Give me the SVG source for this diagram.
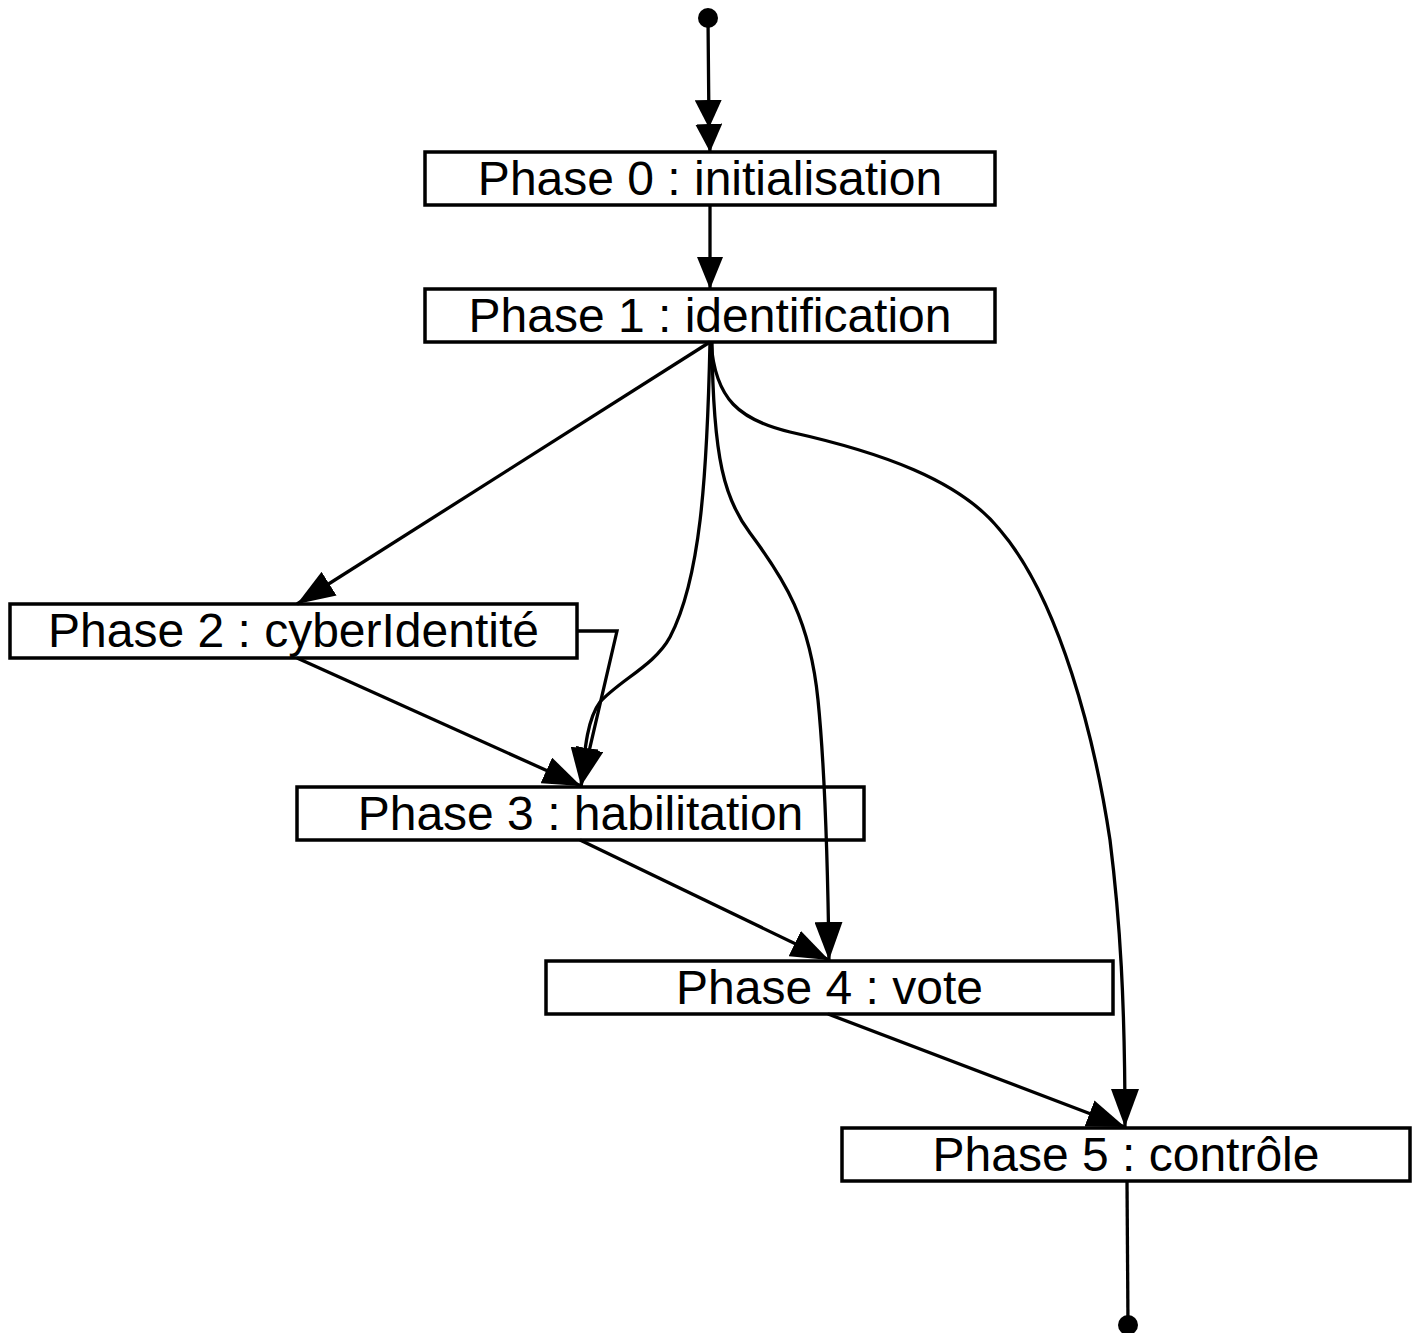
<svg xmlns="http://www.w3.org/2000/svg" width="1420" height="1333" viewBox="0 0 1420 1333">
<style>
.box{fill:#fff;stroke:#000;stroke-width:3.5}
.lbl{font-family:"Liberation Sans",Arial,sans-serif;font-size:48px;fill:#000;text-anchor:middle}
.edge{fill:none;stroke:#000;stroke-width:3.3;marker-end:url(#arrow)}
.dot{fill:#000}
</style>
<defs>
<marker id="arrow" viewBox="0 0 38 28" refX="38" refY="14" markerWidth="38" markerHeight="28" markerUnits="userSpaceOnUse" orient="auto">
<path d="M0,0 L38,14 L0,28 z" fill="#000"/>
</marker>
<marker id="arrowS" viewBox="0 0 28 27" refX="28" refY="13.5" markerWidth="28" markerHeight="27" markerUnits="userSpaceOnUse" orient="auto">
<path d="M0,0 L28,13.5 L0,27 z" fill="#000"/>
</marker>
<marker id="arrowM" viewBox="0 0 32 26" refX="32" refY="13" markerWidth="32" markerHeight="26" markerUnits="userSpaceOnUse" orient="auto">
<path d="M0,0 L32,13 L0,26 z" fill="#000"/>
</marker>
</defs>
<g id="start"><circle class="dot" cx="708" cy="18" r="10"/></g>
<g id="end"><circle class="dot" cx="1128" cy="1325" r="10"/></g>
<g id="phase0"><rect class="box" x="425" y="152" width="570" height="53"/><text class="lbl" x="710" y="194.5">Phase 0 : initialisation</text></g>
<g id="phase1"><rect class="box" x="425" y="289" width="570" height="53"/><text class="lbl" x="710" y="331.5">Phase 1 : identification</text></g>
<g id="phase2"><rect class="box" x="10" y="604" width="567" height="54"/><text class="lbl" x="293.5" y="646.5">Phase 2 : cyberIdentité</text></g>
<g id="phase3"><rect class="box" x="297" y="787" width="567" height="53"/><text class="lbl" x="580.5" y="829.5">Phase 3 : habilitation</text></g>
<g id="phase4"><rect class="box" x="546" y="961" width="567" height="53"/><text class="lbl" x="829.5" y="1003.5">Phase 4 : vote</text></g>
<g id="phase5"><rect class="box" x="842" y="1128" width="568" height="53"/><text class="lbl" x="1126" y="1170.5">Phase 5 : contrôle</text></g>
<g id="connectors">
<path d="M708,18 L709,128 L710,152" fill="none" stroke="#000" stroke-width="3.3" marker-mid="url(#arrowS)" marker-end="url(#arrowS)"/>
<path d="M710,205 L710,289" class="edge" style="marker-end:url(#arrowM)"/>
<path d="M710,342 L297,604" class="edge"/>
<path d="M710,342 C707,480 700,580 670,637 C655,665 620,680 600,702 C588,718 585,745 581,786" class="edge"/>
<path d="M712,342 C713,460 725,500 750,533 C785,580 810,620 818,700 C826,780 828,880 829,960" class="edge"/>
<path d="M711,342 C715,400 740,420 790,432 C880,452 960,480 1000,530 C1060,600 1095,740 1110,840 C1120,920 1125,1000 1125,1127" class="edge"/>
<path d="M297,658 L581,786" class="edge"/>
<path d="M577,631 L617,631 L581,786" class="edge"/>
<path d="M580,840 L829,960" class="edge"/>
<path d="M828,1014 L1125,1127" class="edge"/>
<path d="M1127,1181 L1128,1325" fill="none" stroke="#000" stroke-width="3.3"/>
</g>
</svg>
